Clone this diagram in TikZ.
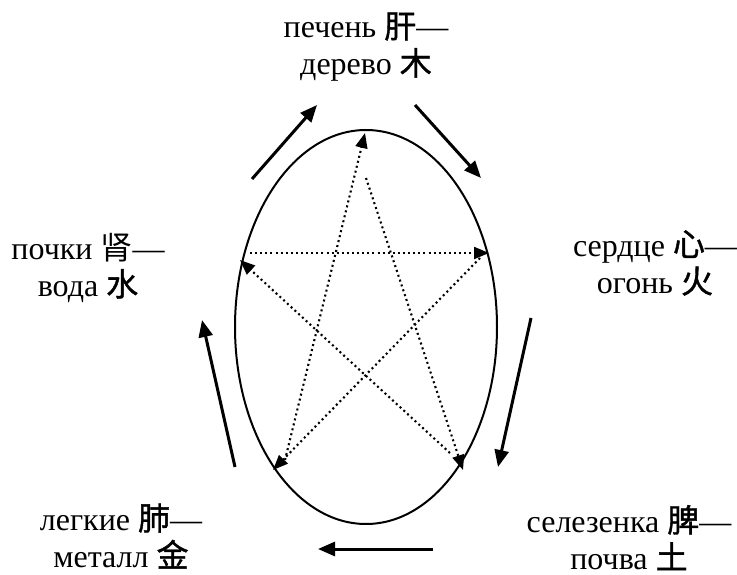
\documentclass[tikz,border=0pt]{standalone}
\usepackage{fontspec}
\setmainfont{Liberation Serif}
\newfontfamily\cjk{Noto Sans CJK SC}
\newfontfamily\cjkm[FakeBold=1.2]{Noto Sans CJK SC}
\usetikzlibrary{arrows.meta,shapes.geometric}
\begin{document}
\begin{tikzpicture}[x=1pt,y=-1pt,
  lbl/.style={font=\fontsize{32}{37}\selectfont, align=center, anchor=base, inner sep=0pt},
  starline/.style={line width=2.1pt, dash pattern=on 2pt off 3.1pt, -{Triangle[length=15pt,width=12pt]}},
  flow/.style={line width=3pt, -{Triangle[length=17pt,width=14pt]}}]
\useasboundingbox (0,0) rectangle (737,575);
\fill[white] (0,0) rectangle (737,575);
% ellipse
\node[draw, line width=2pt, ellipse, minimum width=262pt, minimum height=394pt, inner sep=0pt] (ring) at (366,327) {};
% star vertices (tips) and line starts
\coordinate (W)  at (365,133);
\coordinate (Ws) at (366,178);
\coordinate (F)  at (489,253);
\coordinate (Fs) at (480,258);
\coordinate (E)  at (463,470);
\coordinate (Es) at (450,453);
\coordinate (M)  at (273,470);
\coordinate (Ms) at (285,460);
\coordinate (A)  at (240,260);
\coordinate (As) at (250,253);
\draw[starline] (Ms) -- (W);
\draw[starline] (Ws) -- (E);
\draw[starline] (Es) -- (A);
\draw[starline] (As) -- (F);
\draw[starline] (Fs) -- (M);
% outer flow arrows
\coordinate (o1a) at (252,179); \coordinate (o1b) at (317,105);
\coordinate (o2a) at (415,105); \coordinate (o2b) at (481,178);
\coordinate (o3a) at (531,318); \coordinate (o3b) at (498,467);
\coordinate (o4a) at (433,549); \coordinate (o4b) at (318,549);
\coordinate (o5a) at (235,467); \coordinate (o5b) at (202,320);
\draw[flow] (o1a) -- (o1b);
\draw[flow] (o2a) -- (o2b);
\draw[flow] (o3a) -- (o3b);
\draw[flow] (o4a) -- (o4b);
\draw[flow] (o5a) -- (o5b);
% labels (anchor = baseline of the last line)
\node[lbl] (wood) at (366,75) {печень {\cjkm 肝}—\\дерево {\cjkm 木}};
\node[lbl] (water) at (88,296) {почки {\cjk 肾}—\\вода {\cjkm 水}};
\node[lbl] (fire) at (655,293) {сердце {\cjkm 心}—\\огонь {\cjkm 火}};
\node[lbl] (metal) at (121,567) {легкие {\cjkm 肺}—\\металл {\cjkm 金}};
\node[lbl] (earth) at (629,569) {селезенка {\cjkm 脾}—\\почва {\cjkm 土}};
\end{tikzpicture}
\end{document}
